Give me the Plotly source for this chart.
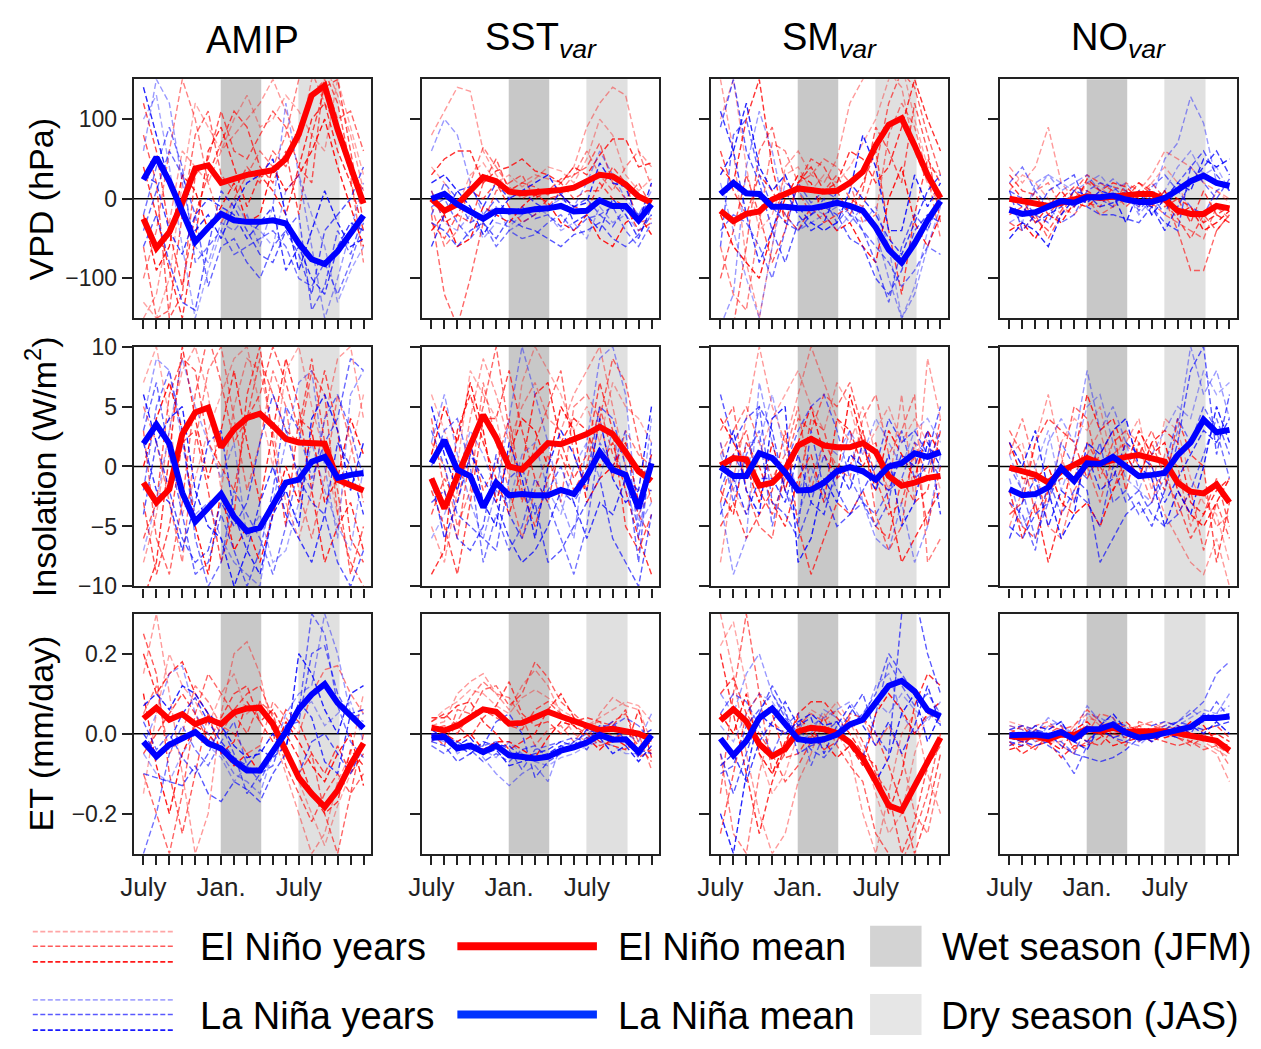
import plotly.graph_objects as go

# ---------------- data ----------------
months = list(range(18))  # July .. December of following year
xtick_vals = [0, 6, 12]
xtick_text = ["July", "Jan.", "July"]
column_titles = ["AMIP", "SST<sub><i>var</i></sub>", "SM<sub><i>var</i></sub>", "NO<sub><i>var</i></sub>"]
row_titles = ["VPD (hPa)", "Insolation (W/m<sup>2</sup>)", "ET (mm/day)"]
vpd_ticks = [-100, 0, 100]
vpd_ticktext = ["\u2212100", "0", "100"]
ins_ticks = [-10, -5, 0, 5, 10]
ins_ticktext = ["\u221210", "\u22125", "0", "5", "10"]
et_ticks = [-0.2, 0.0, 0.2]
et_ticktext = ["\u22120.2", "0.0", "0.2"]

# ---- VPD means ----
amip_vpd_nino_mean = [-25, -62, -42, -5, 38, 42, 20, 26, 30, 33, 36, 50, 81, 130, 142, 87, 38, -6]
amip_vpd_nina_mean = [24, 52, 22, -15, -54, -36, -19, -27, -29, -29, -27, -31, -56, -76, -82, -66, -44, -21]
sst_vpd_nino_mean = [0, -15, -7, 9, 27, 22, 9, 7, 8, 10, 11, 14, 22, 30, 28, 18, 3, -5]
sst_vpd_nina_mean = [0, 6, -7, -15, -25, -15, -16, -16, -13, -12, -9, -16, -15, -2, -9, -9, -27, -7]
sm_vpd_nino_mean = [-15, -28, -19, -16, -1, 6, 13, 11, 9, 10, 20, 34, 67, 93, 101, 67, 30, 1]
sm_vpd_nina_mean = [6, 20, 7, 6, -10, -10, -12, -12, -9, -5, -9, -15, -36, -64, -80, -56, -27, -3]
no_vpd_nino_mean = [0, -3, -7, -9, -5, -1, 3, 1, 3, 5, 6, 6, -1, -15, -19, -19, -9, -12]
no_vpd_nina_mean = [-14, -19, -17, -11, -3, -5, 2, 2, 4, -1, -4, -4, 1, 11, 22, 29, 20, 16]

# ---- Insolation means ----
amip_ins_nino_mean = [-1.35, -3.0, -1.9, 2.7, 4.5, 4.9, 1.6, 3.1, 4.05, 4.4, 3.4, 2.3, 2.0, 1.95, 1.9, -1.1, -1.6, -2.0]
amip_ins_nina_mean = [1.9, 3.5, 1.9, -2.2, -4.6, -3.5, -2.3, -4.2, -5.4, -5.1, -3.2, -1.35, -1.1, 0.4, 0.8, -0.95, -0.7, -0.55]
sst_ins_nino_mean = [-1.0, -3.5, -0.8, 1.6, 4.3, 2.4, 0.0, -0.27, 0.8, 1.95, 1.85, 2.3, 2.7, 3.3, 2.7, 1.2, -0.4, -1.2]
sst_ins_nina_mean = [0.3, 2.2, -0.27, -0.8, -3.4, -1.35, -2.4, -2.3, -2.4, -2.4, -1.95, -2.3, -0.8, 1.2, -0.27, -0.7, -3.5, 0.27]
sm_ins_nino_mean = [0.1, 0.7, 0.6, -1.6, -1.35, -0.27, 1.75, 2.3, 1.75, 1.6, 1.6, 1.95, 1.2, -0.8, -1.6, -1.35, -0.95, -0.8]
sm_ins_nina_mean = [-0.05, -0.8, -0.8, 1.1, 0.7, -0.5, -2.0, -1.95, -1.35, -0.4, -0.05, -0.4, -1.1, 0.0, 0.27, 1.1, 0.8, 1.2]
no_ins_nino_mean = [-0.1, -0.4, -0.7, -1.35, -0.4, 0.13, 0.7, 0.27, 0.55, 0.8, 0.95, 0.7, 0.4, -1.35, -2.1, -2.25, -1.5, -3.0]
no_ins_nina_mean = [-1.9, -2.4, -2.3, -1.75, -0.13, -1.2, 0.27, 0.2, 0.8, 0.0, -0.8, -0.7, -0.55, 0.95, 2.0, 3.9, 2.85, 3.05]

# ---- ET means ----
amip_et_nino_mean = [0.038, 0.065, 0.035, 0.049, 0.024, 0.037, 0.024, 0.053, 0.063, 0.065, 0.024, -0.045, -0.11, -0.15, -0.183, -0.142, -0.077, -0.024]
amip_et_nina_mean = [-0.02, -0.057, -0.028, -0.012, 0.004, -0.024, -0.037, -0.069, -0.092, -0.092, -0.045, 0.004, 0.061, 0.098, 0.124, 0.077, 0.045, 0.014]
sst_et_nino_mean = [0.015, 0.008, 0.02, 0.041, 0.061, 0.055, 0.025, 0.027, 0.039, 0.055, 0.043, 0.031, 0.019, 0.009, 0.012, 0.006, 0.0, -0.014]
sst_et_nina_mean = [-0.01, -0.008, -0.037, -0.03, -0.046, -0.03, -0.054, -0.058, -0.062, -0.058, -0.042, -0.034, -0.022, -0.003, -0.015, -0.014, -0.046, -0.004]
sm_et_nino_mean = [0.033, 0.061, 0.031, -0.026, -0.056, -0.038, 0.006, 0.015, 0.011, 0.002, -0.022, -0.062, -0.119, -0.18, -0.192, -0.131, -0.067, -0.01]
sm_et_nina_mean = [-0.012, -0.054, -0.018, 0.039, 0.063, 0.027, -0.014, -0.018, -0.014, -0.002, 0.023, 0.035, 0.075, 0.12, 0.132, 0.106, 0.059, 0.043]
no_et_nino_mean = [-0.006, -0.01, -0.006, -0.014, -0.002, -0.004, 0.012, 0.006, 0.015, 0.004, 0.006, 0.006, 0.006, 0.001, -0.006, -0.01, -0.018, -0.042]
no_et_nina_mean = [-0.004, -0.002, -0.002, -0.006, 0.004, -0.014, 0.011, 0.012, 0.023, 0.002, -0.01, -0.006, 0.002, 0.011, 0.017, 0.039, 0.039, 0.043]

# ---- individual years: VPD ----
amip_vpd_nino_years = [
    [-150, -120, -30, 60, 40, 20, 60, 80, 100, 120, 150, 110, 70, 150, 170, 130, 80, 10],
    [-60, -150, -140, -20, 80, 110, 30, 10, 40, 20, 60, 40, 90, 130, 150, 100, 110, 60],
    [40, -20, -90, -150, -50, 60, 90, 40, -10, 30, 10, -20, 40, 100, 120, 60, 20, -40],
    [-100, -40, 60, 150, 100, 20, -30, 0, 30, 60, 40, 80, 150, 160, 120, 90, 30, -80],
    [120, 60, -40, -110, -20, 30, 70, 110, 90, 40, 20, 60, -20, 80, 140, 150, 60, -30],
    [-20, -90, -60, 30, 10, -40, -10, 20, -30, -20, 40, 10, 30, 60, 100, 40, -10, -60],
    [-130, -150, -100, 20, 120, 90, 60, 100, 130, 90, 100, 130, 110, 80, 60, 150, 90, 30],
    [80, 20, -150, -120, 30, 50, 110, 60, 50, 80, 110, 90, 40, 20, 160, 120, 40, 10],
]
amip_vpd_nina_years = [
    [60, 150, 120, 20, -60, -80, -30, -40, -20, -60, -10, 120, 30, -60, -150, -100, -40, 20],
    [-60, -20, -80, -130, -140, -60, 10, -10, -40, -70, -80, -40, -70, -120, -40, -20, 0, 40],
    [140, 80, 20, -20, -40, -20, -50, -10, 20, 30, 50, -20, -90, -40, 10, -30, -60, -50],
    [-20, 40, 90, 40, -80, -60, -40, -70, -60, -50, -40, -60, -100, -110, -80, -120, -80, -30],
    [30, 20, -40, -70, -20, 0, -10, -20, -50, -30, -10, -90, -60, -100, -120, -60, -30, -40],
    [100, 130, 40, -60, -150, -90, -40, 0, -30, -40, -60, 10, 30, -20, -60, -130, -90, -60],
    [-40, 10, 60, 30, -20, -110, -60, -50, -80, -100, -60, -40, -20, -140, -110, -40, -70, -20],
]
sst_vpd_nino_years = [
    [80, 110, 140, 135, 60, 30, 10, 20, 30, 25, 20, 40, 90, 120, 140, 130, 60, 40],
    [-20, -120, -160, -100, -30, 10, 20, 30, 0, 10, 25, 30, 40, 70, 20, 0, 20, -10],
    [30, 50, 60, 60, 20, 35, 40, 50, 35, 30, 20, 40, 30, 55, 75, 75, 40, 45],
    [-10, -60, -40, 20, 65, 40, 15, 0, 10, -10, 10, 30, 60, 30, 10, 40, 60, 15],
    [10, -30, -20, 10, 0, 20, -10, -30, -20, 0, 5, -10, -15, 20, 0, -10, -40, -30],
    [-40, -20, -60, -50, -10, -20, -30, -10, 5, -5, -30, -40, -20, -50, -60, -30, -20, -45],
    [40, 20, -10, 30, 45, 20, 30, 15, 25, 40, 35, 20, 50, 100, 80, 30, 10, 25],
    [-30, -50, -20, -30, 20, 50, 10, 20, 15, 5, 20, 0, 10, 10, 40, 20, -30, -25],
]
sst_vpd_nina_years = [
    [60, 100, 80, 20, -20, -10, -40, -30, -20, -10, 0, -10, 20, 60, 30, 0, -20, 10],
    [-30, -40, -60, -40, -30, -50, -25, -35, -40, -50, -60, -45, -40, -30, -50, -60, -45, -20],
    [20, 30, 10, -10, -45, -20, 0, 10, 20, 30, 5, -10, -5, 45, 20, 15, -30, 20],
    [-10, 0, -30, -50, -30, -60, -40, -50, -45, -30, -20, -40, -25, -20, -10, -40, -60, -30],
    [-60, -20, 10, 15, -10, 20, 0, 10, -5, -15, 10, -30, -20, -40, 0, -20, -50, -10],
    [10, -30, -40, -20, -50, -30, -35, -20, -10, -20, -40, -30, -50, -10, -30, -20, -40, -20],
    [-20, 20, 0, -30, -20, 0, -20, -10, -25, -20, -35, -10, 0, -20, -35, -10, -20, 0],
]
sm_vpd_nino_years = [
    [150, 60, -80, -150, -60, 40, 60, 30, 20, 50, 120, 150, 170, 160, 140, 60, 20, -10],
    [-150, -160, -60, 60, 90, 20, 10, -20, 10, 30, 0, -10, 40, 120, 160, 140, 80, 30],
    [40, 20, 100, 150, 40, -30, 20, 40, 10, 20, 60, 50, 20, 40, 90, 150, 100, 60],
    [-60, -120, -140, -30, 70, 60, 20, 30, 50, 40, 20, -30, -20, 80, 120, 90, 30, -50],
    [60, 10, -20, 30, 10, -20, -40, -10, -30, -20, -10, 20, 60, -40, -120, -20, 50, 20],
    [-20, -60, -80, -100, -40, 0, 30, 20, -20, -40, -30, -60, -80, 0, 40, -30, -60, -20],
    [100, 150, 40, -40, -20, 30, 40, 10, 30, 20, 40, 70, 100, 150, 170, 100, 40, 30],
    [-100, -40, 30, -20, -80, -40, 20, 50, 40, 10, -20, 10, 90, 60, 20, 120, 60, -30],
]
sm_vpd_nina_years = [
    [-160, -120, 40, 110, 60, -20, -40, -30, -20, -10, -30, -10, -40, -100, -150, -120, -60, -10],
    [90, 150, 60, 20, -40, -80, -30, -20, -10, -20, -50, -60, -100, -120, -90, -40, -20, -30],
    [30, 60, 120, 40, 10, 30, -10, -30, -40, -30, 10, 80, 40, -40, -40, 30, -10, 20],
    [-40, -20, -30, -60, -100, -40, 20, -5, 10, 0, -20, -40, -60, -80, -110, -90, -60, -70],
    [110, 60, -20, -80, -40, 10, -20, -40, -30, 10, 20, 0, -20, -50, -70, -30, 10, 30],
    [20, -40, -100, -150, -60, 20, 10, -10, -20, -40, -20, -30, -10, -60, -150, -110, -40, 10],
    [-60, 80, 100, 30, -10, -30, -40, -20, 0, -30, -10, -40, -80, -130, -60, -20, -40, 0],
]
no_vpd_nino_years = [
    [40, 20, 40, 90, 20, 0, 20, 10, -10, 0, 10, 30, 60, 50, 40, 20, 10, 0],
    [-30, -40, -20, -50, -20, 10, 30, 20, 10, -10, 5, 20, 0, -40, -90, -90, -40, -20],
    [20, 0, -30, -10, 10, -10, 25, 10, 20, 15, 0, -10, 10, 0, -10, -30, -20, -30],
    [-10, -20, 10, 20, -10, -20, 0, -20, -10, 20, 10, -5, -20, -30, -40, -50, -10, -25],
    [30, 10, 5, -20, 0, 15, 10, 0, 5, 0, 20, 10, -10, 0, -30, 10, -20, -10],
    [-40, -30, -50, -20, -30, -5, -10, 5, 0, 10, -5, 0, 10, -20, -10, -40, -30, -15],
    [10, 30, 20, 0, -20, -10, 20, 15, 0, 5, -10, 20, 40, 20, -20, -30, 10, -5],
    [-20, -10, -25, -40, -15, 10, -5, -10, 15, 10, 20, 5, -5, -25, -50, -20, -40, -20],
]
no_vpd_nina_years = [
    [-10, -30, 20, 30, 10, 20, 30, 10, 25, 10, -20, 0, 50, 70, 128, 95, 20, 20],
    [10, -40, -20, 10, 20, 30, -10, -20, -20, -25, -30, -10, -30, -40, 40, 60, 30, 10],
    [-50, -30, -40, -60, -20, 0, -5, 10, 5, -30, 10, -20, 0, 20, 10, 50, 40, 50],
    [20, 40, 10, -10, -30, -20, 10, 20, 15, 0, -10, 15, 30, 10, -10, -20, 10, 20],
    [0, -10, -30, -20, -10, 10, 5, -10, -5, 5, -5, -10, -40, -10, 20, 40, 60, 30],
    [-30, -20, 10, 30, 20, 10, 20, 30, 10, 20, 0, -20, 10, 40, 60, 30, 40, 10],
    [10, 0, -20, -30, 0, -10, 5, 0, -10, 10, -15, 5, -20, 20, 40, 20, 0, 25],
]

# ---- individual years: Insolation ----
amip_ins_nino_years = [
    [-8, -4, 3, 8, 10, 6, -2, 5, 9, 8, 3, -3, -6, -2, 4, 9, 10, 4],
    [3, -6, -9, -3, 6, 11, 7, 2, 4, 9, 6, 3, 2, 8, 6, -4, -8, -10],
    [-11, -8, 1, 10, 4, -1, 3, 8, 2, -3, 3, 9, 5, -2, -8, -5, -3, -7],
    [5, 2, -3, -8, 2, 8, 10, 4, -2, 2, 8, 5, -2, -6, -1, 6, 2, -3],
    [-3, -9, -5, 2, 3, -2, -8, -4, 6, 10, 2, -5, 4, 3, 8, 3, -6, -8],
    [0, 4, 7, 3, -5, -9, -2, -7, -5, -8, -4, 0, -3, 3, -3, -1, 4, 1],
    [7, 10, 4, -4, -1, 3, 6, 9, 10, 5, 0, 8, 10, 5, 1, -4, 1, 6],
    [-6, -3, 6, 9, 8, 2, 0, -2, 4, 6, 10, 7, 3, 9, 2, -2, -9, -5],
]
amip_ins_nina_years = [
    [4, 9, 8, 2, -4, -3, -6, -8, -9, -10, -3, 2, 7, 8, 0, -6, 6, 8],
    [-4, 2, -2, -6, -8, -7, -3, -5, -3, 2, 6, 3, -1, -3, -4, -8, -10, -7],
    [6, 2, 4, 5, -2, -5, -6, -10, -7, -9, -4, -2, -5, 4, 6, 3, -2, 2],
    [-2, 5, 8, 3, -6, -10, -8, -2, -4, -6, -9, -5, 0, -2, 4, 6, 3, -1],
    [2, -2, -3, -7, -3, 2, 3, -4, -7, -3, 0, -4, -6, -8, -4, 2, 0, -4],
    [-7, -3, 3, 9, 5, 2, -1, 2, -6, -4, -8, -7, -3, 2, -2, -5, -7, 0],
    [3, 7, 1, -4, -9, -8, -4, -7, -10, -7, -2, 5, 3, -1, 2, 4, 9, 8],
]
sst_ins_nino_years = [
    [-5, -8, -2, 4, 9, 6, 2, 5, 7, 4, 3, 6, 8, 10, 5, 0, -4, -2],
    [4, -2, -6, 1, 5, 10, 3, -3, 2, 5, 8, 1, -2, 4, 9, 7, 2, -3],
    [-9, -7, 3, 6, 2, -1, -4, 0, 6, 7, 2, 4, 3, 0, 2, -2, -6, -9],
    [2, 0, -5, -2, 7, 2, -2, -6, -2, 1, -3, 5, 6, 4, -1, 3, 1, 0],
    [-2, -5, -9, -3, 4, 4, 8, 3, -1, -3, 2, -1, 1, 7, 3, -5, -7, -4],
    [1, 5, 2, 7, 3, -3, 1, 4, 3, 0, 5, 3, -3, -1, 0, 2, -3, 1],
    [6, 3, 0, 8, 6, 4, -1, 7, 10, 8, 6, 3, 5, 2, 7, 5, 4, 2],
    [-4, -1, -3, 2, -2, 0, 4, -2, -5, -1, 1, -2, 0, 5, 1, -1, -4, -6],
]
sst_ins_nina_years = [
    [2, 6, 1, -3, -6, -2, 4, 10, 6, 2, -3, -6, 2, 9, 10, 6, -5, 4],
    [-3, -2, -6, -7, -5, 1, -4, -6, -3, -8, -7, -5, -3, -1, -6, -8, -10, -4],
    [5, 1, -2, 2, -3, -5, 2, -1, -6, 0, 3, 1, -2, 4, -1, -3, -2, 5],
    [0, 3, 4, 0, -8, -4, -7, -5, -1, -3, -6, -9, -5, 2, 0, 3, -6, 1],
    [-1, -6, -3, 1, -1, -3, -6, -8, -7, -5, -2, -3, -6, -3, -4, -1, -2, -2],
    [-6, -4, -1, 3, 1, -2, -3, 1, 2, -2, -4, 0, 2, -1, 3, -2, -5, -3],
    [3, 0, -4, -5, -6, -7, -1, 0, -4, -2, 0, -3, -1, 5, 4, 0, -8, 2],
]
sm_ins_nino_years = [
    [-8, -1, 4, 10, 5, 2, 6, 10, 7, 4, 2, 5, 1, -2, 6, -3, 9, 4],
    [3, 5, -2, -5, -6, 0, 4, 3, 6, 5, 7, 3, -4, -7, -5, 2, -1, 4],
    [-2, -4, 2, 0, -3, -5, -1, 1, -3, 4, 3, 0, 2, -3, -8, -6, -4, -2],
    [1, 3, 5, 2, -1, 1, 5, -2, 2, 0, -1, 4, 6, 1, 3, 6, -8, -6],
    [-5, -3, -6, -4, -2, 3, -5, -9, -6, -3, -4, -2, -5, -6, -1, -3, -2, 3],
    [4, 2, 0, -3, 2, -2, 2, 5, 1, -1, 6, 2, -2, 3, 1, -1, 3, 1],
    [2, -2, -4, 1, 4, 6, 8, 5, 3, 7, 5, 1, 3, 5, 2, 4, 2, -2],
    [-3, 1, 3, -2, -4, -1, -2, 4, 3, -1, 0, 3, -1, -4, -3, 1, -5, 0],
]
sm_ins_nina_years = [
    [-3, -9, -6, 7, 2, -2, -4, -1, 2, 1, 3, -3, -6, -7, -3, -8, -5, 1],
    [6, 2, 4, 5, 3, -2, -5, 3, -2, -5, -4, -2, 0, 4, 2, 3, 1, 5],
    [-1, 3, -2, -4, 4, 5, -8, -6, -1, -3, 1, 0, -2, 1, -5, -3, 2, 0],
    [2, -3, 1, 3, -5, 0, 3, 5, 6, 3, -1, -3, -4, -2, -1, 2, 1, -1],
    [-4, -1, -4, -1, -1, -3, 1, -3, -4, 0, -2, 2, -1, -2, 1, 0, 3, -4],
    [1, -2, 2, 2, 6, 1, -2, 0, -3, -1, 3, 1, 4, 2, 0, 3, 4, 2],
    [-2, 1, -1, 5, -3, -4, -6, -3, 1, -2, -4, -3, -5, -3, 3, -1, 0, 3],
]
no_ins_nino_years = [
    [-5, -2, 2, 6, 1, -3, 1, 3, -1, 2, 4, -1, -4, -6, -8, -9, -6, -10],
    [3, 1, -4, -2, 0, 5, 4, -1, 2, 3, 1, 3, 0, -4, -2, -7, -3, -6],
    [-2, -6, -3, -8, -4, 1, 6, 3, 4, 1, -1, 2, 3, 2, -3, -4, -2, -1],
    [1, 4, 0, -5, -6, -2, 0, -3, 1, 2, 0, -3, 1, 0, -5, -2, -5, -4],
    [-4, -3, 2, 4, 3, 2, -1, 1, 3, -2, 2, 0, -2, 4, 1, 0, -8, -3],
    [2, -1, -1, 0, -3, -4, -3, -5, -2, 0, 3, 1, 2, -2, -4, -5, -3, -1],
    [1, 2, -2, -3, 2, 4, 3, 5, 0, 3, 2, -2, 4, 3, -1, -3, -4, -8],
    [-3, -5, -6, -2, -1, -1, 2, 0, -2, 1, -1, 2, -1, -3, -6, -4, -1, -5],
]
no_ins_nina_years = [
    [-1, -5, -3, 2, 4, 2, 8, 3, 5, 2, -2, -3, -1, 3, 10, 6, 8, 4],
    [-5, -6, -4, -3, 0, -1, -2, -8, -6, -4, -3, -5, -2, 2, 8, 10, 1, 6],
    [2, 0, 3, -2, -6, -4, 2, 1, 3, 4, 0, -1, -5, -2, -4, 0, 5, 2],
    [0, -2, -6, -3, 2, 0, -1, 2, -3, -2, -4, -3, 0, 4, 2, 5, 3, -1],
    [-6, -3, -1, -5, -2, -3, 1, -2, -1, 2, 1, 0, -3, -1, 1, 3, 2, 4],
    [1, -2, 0, 3, -2, 1, 5, 6, 2, -1, -2, 1, 3, 5, 4, 8, 6, 7],
    [-3, -4, -7, -1, -4, -2, -3, -5, 0, -3, -2, -4, -5, -4, -2, 1, 4, 1],
]

# ---- individual years: ET ----
amip_et_nino_years = [
    [0.15, 0.3, 0.1, -0.1, -0.3, -0.2, 0.05, 0.2, 0.23, 0.15, 0.0, -0.1, -0.2, -0.3, -0.25, -0.12, -0.05, 0.1],
    [-0.1, -0.2, -0.3, -0.15, 0.05, 0.15, 0.1, 0.05, 0.0, 0.08, 0.05, -0.05, -0.1, -0.05, -0.2, -0.3, -0.15, -0.1],
    [0.2, 0.1, 0.15, 0.18, 0.1, 0.05, -0.05, -0.02, 0.08, 0.03, 0.06, 0.0, -0.06, -0.15, -0.2, -0.17, -0.04, -0.08],
    [0.05, 0.12, -0.05, 0.0, 0.12, 0.08, 0.02, 0.0, -0.05, -0.03, 0.08, 0.04, 0.0, 0.1, 0.16, 0.17, 0.1, 0.05],
    [-0.05, 0.0, 0.05, 0.1, 0.05, -0.02, 0.04, 0.1, 0.12, 0.03, -0.02, 0.06, 0.03, -0.05, -0.1, -0.03, -0.1, -0.05],
    [0.1, -0.08, -0.2, -0.05, 0.02, 0.0, -0.04, -0.08, -0.05, -0.1, -0.05, 0.03, -0.02, -0.08, -0.12, -0.05, 0.0, -0.13],
    [-0.15, 0.05, 0.2, 0.12, 0.08, 0.02, 0.1, 0.15, 0.05, 0.08, 0.02, -0.04, -0.12, -0.2, -0.28, -0.18, -0.1, -0.02],
    [0.25, 0.15, -0.1, -0.25, -0.1, 0.05, 0.0, 0.06, 0.1, 0.12, 0.04, -0.08, -0.15, -0.22, -0.15, -0.1, -0.15, 0.0],
]
amip_et_nina_years = [
    [-0.03, 0.05, 0.15, 0.17, 0.05, 0.0, -0.05, -0.1, -0.12, -0.15, -0.05, 0.05, 0.1, 0.12, 0.3, 0.2, 0.05, 0.03],
    [-0.1, -0.11, -0.12, -0.13, -0.08, -0.15, -0.17, -0.12, -0.14, -0.17, -0.1, -0.05, -0.1, -0.02, 0.0, -0.05, -0.1, -0.03],
    [0.07, 0.1, 0.06, 0.12, 0.1, 0.05, 0.02, -0.03, -0.06, -0.05, 0.0, -0.05, 0.2, 0.15, 0.06, 0.0, 0.1, 0.12],
    [-0.3, -0.2, -0.05, 0.02, -0.04, -0.08, -0.02, 0.03, -0.08, -0.12, -0.05, 0.0, 0.05, 0.3, 0.25, 0.07, -0.02, -0.06],
    [0.0, -0.05, -0.02, 0.05, 0.09, 0.03, -0.02, -0.06, -0.08, -0.04, -0.06, -0.03, 0.08, 0.04, -0.07, -0.1, 0.05, 0.06],
    [-0.05, -0.1, -0.12, -0.05, 0.0, -0.03, -0.06, -0.12, -0.08, -0.1, -0.04, 0.02, 0.06, 0.08, 0.02, 0.05, 0.08, -0.02],
    [0.03, -0.04, 0.0, -0.06, -0.1, -0.05, 0.02, -0.05, -0.15, -0.1, -0.08, 0.02, 0.03, 0.2, 0.22, 0.1, 0.04, 0.05],
]
sst_et_nino_years = [
    [0.02, 0.03, 0.1, 0.13, 0.15, 0.1, 0.06, 0.12, 0.16, 0.12, 0.05, 0.0, -0.02, 0.05, 0.09, 0.07, 0.06, -0.02],
    [0.0, -0.03, 0.06, 0.05, 0.11, 0.12, 0.07, 0.1, 0.18, 0.14, 0.08, 0.05, 0.02, 0.0, 0.03, 0.05, -0.02, -0.05],
    [0.04, 0.04, 0.07, 0.08, 0.03, 0.0, -0.04, -0.02, 0.0, 0.06, 0.1, 0.04, 0.01, -0.02, -0.03, -0.04, 0.06, -0.06],
    [-0.02, 0.01, 0.03, 0.09, 0.13, 0.1, 0.09, 0.04, -0.03, 0.01, 0.02, -0.02, 0.02, 0.03, -0.01, 0.0, 0.0, -0.09],
    [0.03, 0.05, 0.02, -0.01, 0.04, 0.07, 0.13, 0.05, 0.02, 0.03, 0.0, 0.03, 0.04, 0.03, 0.02, 0.06, -0.06, -0.04],
    [-0.01, 0.0, -0.02, 0.0, -0.04, -0.02, -0.02, -0.04, -0.06, -0.01, 0.03, 0.02, -0.01, -0.04, -0.01, -0.03, -0.04, -0.02],
    [0.03, 0.06, 0.08, 0.11, 0.1, 0.07, 0.05, 0.09, 0.11, 0.09, 0.06, 0.04, 0.02, 0.04, 0.06, 0.08, 0.07, 0.03],
    [0.01, 0.02, 0.0, 0.05, 0.06, 0.04, 0.02, 0.01, 0.06, 0.08, 0.05, 0.02, 0.0, -0.03, -0.02, 0.01, -0.03, -0.07],
]
sst_et_nina_years = [
    [-0.01, -0.02, -0.04, -0.02, -0.06, -0.1, -0.13, -0.1, -0.08, -0.12, -0.03, -0.02, 0.0, 0.02, 0.01, 0.0, -0.02, 0.05],
    [-0.02, -0.03, -0.07, -0.05, -0.03, 0.03, 0.05, 0.0, -0.11, -0.07, -0.05, -0.02, -0.04, 0.01, 0.03, -0.02, -0.04, -0.05],
    [0.01, -0.01, -0.03, -0.01, -0.05, -0.04, -0.08, -0.07, -0.06, -0.05, -0.03, -0.04, -0.02, -0.01, -0.05, -0.03, -0.07, -0.03],
    [-0.03, -0.05, -0.02, -0.04, -0.03, -0.02, -0.04, -0.09, -0.04, -0.03, -0.02, -0.01, -0.02, 0.02, 0.02, 0.04, 0.02, -0.02],
    [0.0, 0.0, -0.03, -0.05, -0.02, -0.03, -0.03, -0.06, -0.05, -0.04, -0.02, -0.03, 0.01, 0.0, -0.01, 0.01, -0.01, 0.01],
    [-0.02, 0.0, -0.05, -0.03, -0.04, -0.06, -0.02, -0.05, -0.07, -0.08, -0.06, -0.05, -0.03, -0.02, -0.03, -0.05, -0.05, 0.0],
    [0.0, -0.01, -0.02, -0.04, -0.07, -0.05, -0.07, -0.04, -0.03, -0.06, -0.04, -0.03, -0.01, 0.0, -0.02, -0.01, -0.06, -0.01],
]
sm_et_nino_years = [
    [0.3, 0.15, -0.05, -0.2, -0.3, -0.25, -0.12, -0.05, 0.05, 0.0, -0.05, -0.2, -0.3, -0.15, 0.0, 0.05, -0.1, -0.2],
    [-0.15, 0.1, 0.3, 0.1, -0.1, -0.05, 0.02, -0.01, 0.04, -0.03, -0.08, -0.12, -0.25, -0.3, -0.32, -0.25, -0.15, 0.0],
    [0.2, 0.05, -0.1, -0.25, -0.12, -0.03, 0.05, 0.08, 0.08, 0.04, 0.0, -0.05, -0.08, -0.2, -0.1, 0.07, 0.15, 0.12],
    [-0.05, -0.25, -0.3, -0.1, 0.03, 0.0, 0.02, 0.05, 0.03, 0.06, 0.02, 0.04, -0.03, 0.02, -0.05, -0.2, -0.25, -0.1],
    [0.1, 0.14, 0.05, 0.1, 0.05, -0.06, -0.05, 0.0, -0.04, -0.02, 0.05, 0.04, 0.0, -0.08, -0.18, -0.3, -0.2, -0.05],
    [0.05, 0.0, 0.1, -0.05, -0.1, -0.02, 0.04, 0.01, -0.02, -0.06, -0.03, -0.08, 0.05, 0.1, 0.06, 0.0, 0.05, 0.08],
    [0.22, 0.28, 0.12, -0.05, -0.15, -0.1, 0.0, 0.06, 0.04, 0.08, 0.03, -0.04, -0.15, -0.25, -0.2, -0.05, 0.05, 0.03],
    [-0.25, -0.1, 0.05, 0.0, -0.05, -0.12, -0.08, -0.02, 0.02, -0.01, 0.04, -0.02, -0.1, -0.15, -0.3, -0.22, -0.08, -0.03],
]
sm_et_nina_years = [
    [0.1, 0.05, 0.15, 0.2, 0.1, 0.05, 0.0, 0.02, 0.04, 0.06, 0.08, 0.03, 0.12, 0.15, 0.05, 0.0, 0.04, 0.06],
    [-0.05, -0.15, -0.05, 0.05, 0.12, 0.06, -0.05, -0.03, -0.02, 0.0, 0.05, 0.1, 0.0, -0.05, 0.3, 0.35, 0.2, 0.1],
    [-0.2, -0.3, -0.1, 0.05, 0.02, 0.0, 0.03, 0.05, 0.02, 0.03, -0.03, -0.05, -0.12, -0.06, 0.05, 0.1, -0.02, 0.05],
    [0.05, 0.1, 0.08, 0.02, -0.05, 0.02, 0.05, -0.08, 0.0, 0.03, -0.02, -0.06, 0.05, 0.18, 0.12, 0.07, 0.1, 0.05],
    [-0.08, -0.05, -0.12, -0.02, 0.03, 0.08, 0.02, 0.04, -0.05, 0.02, 0.07, 0.02, -0.03, 0.03, -0.05, 0.02, 0.12, 0.02],
    [0.02, -0.02, 0.05, 0.1, 0.08, 0.03, -0.02, 0.0, 0.06, 0.04, 0.01, 0.05, 0.08, 0.05, 0.1, 0.06, 0.03, 0.08],
    [-0.1, -0.08, 0.02, 0.06, 0.1, 0.04, 0.0, -0.04, -0.06, -0.02, 0.02, 0.05, 0.1, 0.2, 0.15, 0.1, 0.06, 0.02],
]
no_et_nino_years = [
    [0.02, 0.01, -0.01, 0.0, -0.03, -0.05, 0.04, 0.03, 0.0, 0.01, 0.02, 0.03, 0.01, 0.0, -0.02, -0.03, -0.05, -0.12],
    [-0.03, -0.02, 0.01, 0.02, 0.01, 0.02, 0.06, 0.03, -0.01, -0.03, 0.03, 0.02, 0.01, -0.01, -0.02, -0.04, -0.03, -0.05],
    [-0.02, -0.05, -0.03, -0.02, -0.06, -0.03, -0.03, -0.01, 0.02, 0.03, 0.0, -0.02, 0.0, 0.02, 0.0, -0.01, 0.0, -0.02],
    [0.01, 0.0, 0.02, 0.03, 0.0, -0.02, 0.0, 0.05, 0.04, 0.0, -0.02, 0.01, 0.02, 0.01, -0.01, 0.0, -0.03, -0.08],
    [0.0, 0.02, -0.02, -0.01, 0.01, 0.0, -0.02, -0.03, 0.01, 0.02, 0.01, -0.01, -0.02, -0.03, -0.02, 0.01, 0.02, -0.01],
    [-0.04, -0.03, 0.0, -0.02, -0.04, 0.01, 0.03, 0.0, -0.03, -0.02, -0.01, 0.0, -0.01, 0.0, 0.03, 0.02, -0.02, -0.03],
    [0.03, 0.02, 0.01, -0.02, -0.02, 0.02, 0.05, 0.02, 0.03, 0.0, 0.01, 0.01, 0.03, 0.02, 0.0, -0.02, -0.04, -0.06],
    [-0.01, -0.02, -0.04, 0.0, 0.02, -0.04, -0.02, 0.02, 0.0, -0.01, 0.02, 0.0, 0.0, -0.01, -0.03, -0.01, -0.02, -0.04],
]
no_et_nina_years = [
    [0.01, 0.02, 0.0, 0.04, 0.02, 0.0, 0.07, 0.03, 0.04, -0.02, -0.03, 0.0, 0.01, 0.03, 0.06, 0.04, 0.05, 0.1],
    [-0.02, -0.03, 0.01, 0.0, -0.03, -0.05, -0.06, -0.07, -0.06, -0.04, -0.01, 0.02, 0.03, 0.02, 0.0, 0.05, 0.04, 0.05],
    [0.0, -0.01, 0.02, 0.01, 0.03, -0.02, -0.04, 0.02, 0.05, 0.01, 0.0, -0.02, 0.0, -0.01, 0.02, 0.0, 0.03, 0.0],
    [0.01, 0.02, 0.01, -0.01, -0.02, -0.05, 0.02, 0.0, 0.03, 0.02, -0.02, 0.0, 0.02, 0.03, 0.05, 0.08, 0.15, 0.18],
    [-0.01, -0.02, -0.03, -0.02, 0.0, 0.0, -0.02, 0.01, -0.01, 0.0, 0.01, 0.0, 0.01, 0.0, 0.02, 0.01, 0.02, 0.03],
    [0.02, 0.01, -0.02, 0.02, 0.03, -0.02, 0.05, 0.04, 0.02, 0.0, -0.01, 0.01, 0.0, 0.02, 0.04, 0.06, 0.05, 0.07],
    [-0.03, -0.01, 0.0, -0.03, -0.05, -0.1, -0.03, 0.02, -0.01, -0.02, 0.0, -0.01, 0.01, 0.03, 0.02, 0.03, 0.08, 0.04],
]

# seasons (month index on x axis)
wet_season = [5.97, 9.1]
dry_season = [11.97, 15.15]

# ---------------- layout helpers ----------------
W, H = 1261, 1049
FONT = "Liberation Sans, Arial, Helvetica, sans-serif"


def px_x(v):
    return v / W


def px_y(v):
    return 1 - v / H


col_px = [(122, 362), (413, 653), (705, 945), (997, 1237)]
row_px = [(68, 313), (342, 588), (616, 862)]
yranges = [[-150, 150], [-10, 10], [-0.3, 0.3]]
yticks = [(vpd_ticks, vpd_ticktext), (ins_ticks, ins_ticktext), (et_ticks, et_ticktext)]

panels = [
    [(amip_vpd_nino_years, amip_vpd_nina_years, amip_vpd_nino_mean, amip_vpd_nina_mean),
     (sst_vpd_nino_years, sst_vpd_nina_years, sst_vpd_nino_mean, sst_vpd_nina_mean),
     (sm_vpd_nino_years, sm_vpd_nina_years, sm_vpd_nino_mean, sm_vpd_nina_mean),
     (no_vpd_nino_years, no_vpd_nina_years, no_vpd_nino_mean, no_vpd_nina_mean)],
    [(amip_ins_nino_years, amip_ins_nina_years, amip_ins_nino_mean, amip_ins_nina_mean),
     (sst_ins_nino_years, sst_ins_nina_years, sst_ins_nino_mean, sst_ins_nina_mean),
     (sm_ins_nino_years, sm_ins_nina_years, sm_ins_nino_mean, sm_ins_nina_mean),
     (no_ins_nino_years, no_ins_nina_years, no_ins_nino_mean, no_ins_nina_mean)],
    [(amip_et_nino_years, amip_et_nina_years, amip_et_nino_mean, amip_et_nina_mean),
     (sst_et_nino_years, sst_et_nina_years, sst_et_nino_mean, sst_et_nina_mean),
     (sm_et_nino_years, sm_et_nina_years, sm_et_nino_mean, sm_et_nina_mean),
     (no_et_nino_years, no_et_nina_years, no_et_nino_mean, no_et_nina_mean)],
]

red_alphas = [0.4, 0.6, 0.8, 0.5, 0.7, 0.9, 0.35, 0.65]
blue_alphas = [0.4, 0.65, 0.85, 0.55, 0.75, 0.35, 0.6]
DASH = "6px,3px"

fig = go.Figure()
shapes = []
annotations = []
layout_axes = {}

for r in range(3):
    for c in range(4):
        k = r * 4 + c + 1
        s = "" if k == 1 else str(k)
        xa, ya = "x" + s, "y" + s
        nino_years, nina_years, nino_mean, nina_mean = panels[r][c]
        for i, yv in enumerate(nino_years):
            fig.add_trace(go.Scatter(x=months, y=yv, mode="lines", xaxis=xa, yaxis=ya,
                                     line=dict(color=f"rgba(255,0,0,{red_alphas[i % 8]})", width=1.4, dash=DASH),
                                     showlegend=False, hoverinfo="skip"))
        for i, yv in enumerate(nina_years):
            fig.add_trace(go.Scatter(x=months, y=yv, mode="lines", xaxis=xa, yaxis=ya,
                                     line=dict(color=f"rgba(0,0,255,{blue_alphas[i % 7]})", width=1.4, dash=DASH),
                                     showlegend=False, hoverinfo="skip"))
        fig.add_trace(go.Scatter(x=months, y=nino_mean, mode="lines", xaxis=xa, yaxis=ya,
                                 line=dict(color="#ff0000", width=6), showlegend=False, hoverinfo="skip"))
        fig.add_trace(go.Scatter(x=months, y=nina_mean, mode="lines", xaxis=xa, yaxis=ya,
                                 line=dict(color="#0000ff", width=6), showlegend=False, hoverinfo="skip"))

        x0, x1 = col_px[c]
        y0, y1 = row_px[r]
        layout_axes["xaxis" + s] = dict(
            domain=[px_x(x0), px_x(x1)], anchor=ya, range=[-0.75, 17.6],
            tickmode="array", tickvals=xtick_vals, ticktext=xtick_text, showticklabels=(r == 2),
            ticks="outside", ticklen=9, tickwidth=1.5, tickcolor="#222",
            minor=dict(ticks="outside", tick0=0, dtick=1, ticklen=9, tickwidth=1.5, tickcolor="#222", showgrid=False),
            showline=True, mirror=True, linewidth=2.2, linecolor="#222",
            showgrid=False, zeroline=False, tickfont=dict(size=26, color="#222", family=FONT))
        tv, tt = yticks[r]
        layout_axes["yaxis" + s] = dict(
            domain=[px_y(y1), px_y(y0)], anchor=xa, range=yranges[r],
            tickmode="array", tickvals=tv, ticktext=tt, showticklabels=(c == 0),
            ticks="outside", ticklen=10, tickwidth=1.5, tickcolor="#222",
            showline=True, mirror=True, linewidth=2.2, linecolor="#222",
            showgrid=False, zeroline=False, tickfont=dict(size=23, color="#222", family=FONT))

        shapes.append(dict(type="rect", xref=xa, yref=ya + " domain", x0=wet_season[0], x1=wet_season[1],
                           y0=0, y1=1, fillcolor="#c8c8c8", line=dict(width=0), layer="below"))
        shapes.append(dict(type="rect", xref=xa, yref=ya + " domain", x0=dry_season[0], x1=dry_season[1],
                           y0=0, y1=1, fillcolor="#e0e0e0", line=dict(width=0), layer="below"))
        shapes.append(dict(type="line", xref=xa + " domain", yref=ya, x0=0, x1=1, y0=0, y1=0,
                           line=dict(color="black", width=1.5), layer="below"))

# column titles
for c, t in enumerate(column_titles):
    x0, x1 = col_px[c]
    annotations.append(dict(text=t, x=px_x((x0 + x1) / 2), y=px_y(28), xref="paper", yref="paper",
                            xanchor="center", yanchor="middle", showarrow=False,
                            font=dict(size=38, color="black", family=FONT)))
# row titles
for r, t in enumerate(row_titles):
    y0, y1 = row_px[r]
    annotations.append(dict(text=t, x=px_x(28), y=px_y((y0 + y1) / 2), xref="paper", yref="paper",
                            xanchor="center", yanchor="middle", textangle=-90, showarrow=False,
                            font=dict(size=34, color="black", family=FONT)))

# ---- custom legend ----
legend_alphas = [0.35, 0.65, 0.9]
for j, yy in enumerate([942, 957, 973]):
    shapes.append(dict(type="line", xref="paper", yref="paper", x0=px_x(20), x1=px_x(163), y0=px_y(yy), y1=px_y(yy),
                       line=dict(color=f"rgba(255,0,0,{legend_alphas[j]})", width=1.6, dash="5px,2.5px")))
for j, yy in enumerate([1012, 1027, 1043]):
    shapes.append(dict(type="line", xref="paper", yref="paper", x0=px_x(20), x1=px_x(163), y0=px_y(yy), y1=px_y(yy),
                       line=dict(color=f"rgba(0,0,255,{legend_alphas[j]})", width=1.6, dash="5px,2.5px")))
shapes.append(dict(type="line", xref="paper", yref="paper", x0=px_x(449), x1=px_x(590), y0=px_y(957), y1=px_y(957),
                   line=dict(color="#ff0000", width=8)))
shapes.append(dict(type="line", xref="paper", yref="paper", x0=px_x(449), x1=px_x(590), y0=px_y(1027), y1=px_y(1027),
                   line=dict(color="#0033ff", width=8)))
shapes.append(dict(type="rect", xref="paper", yref="paper", x0=px_x(866), x1=px_x(918), y0=px_y(978), y1=px_y(936),
                   fillcolor="#d3d3d3", line=dict(width=0)))
shapes.append(dict(type="rect", xref="paper", yref="paper", x0=px_x(866), x1=px_x(918), y0=px_y(1048), y1=px_y(1006),
                   fillcolor="#e6e6e6", line=dict(width=0)))

legend_texts = [("El Niño years", 187, 958), ("La Niña years", 187, 1029),
                ("El Niño mean", 609, 958), ("La Niña mean", 609, 1029),
                ("Wet season (JFM)", 937, 958), ("Dry season (JAS)", 936, 1029)]
for t, lx, ly in legend_texts:
    annotations.append(dict(text=t, x=px_x(lx), y=px_y(ly), xref="paper", yref="paper",
                            xanchor="left", yanchor="middle", showarrow=False,
                            font=dict(size=38, color="black", family=FONT)))

fig.update_layout(
    width=W, height=H, margin=dict(l=0, r=0, t=0, b=0),
    paper_bgcolor="white", plot_bgcolor="white",
    font=dict(family=FONT, color="black"),
    shapes=shapes, annotations=annotations, showlegend=False,
    **layout_axes,
)

fig.write_html("out.html", config={"displayModeBar": False},
               post_script="document.body.style.margin='0px';document.documentElement.style.overflow='hidden';")
